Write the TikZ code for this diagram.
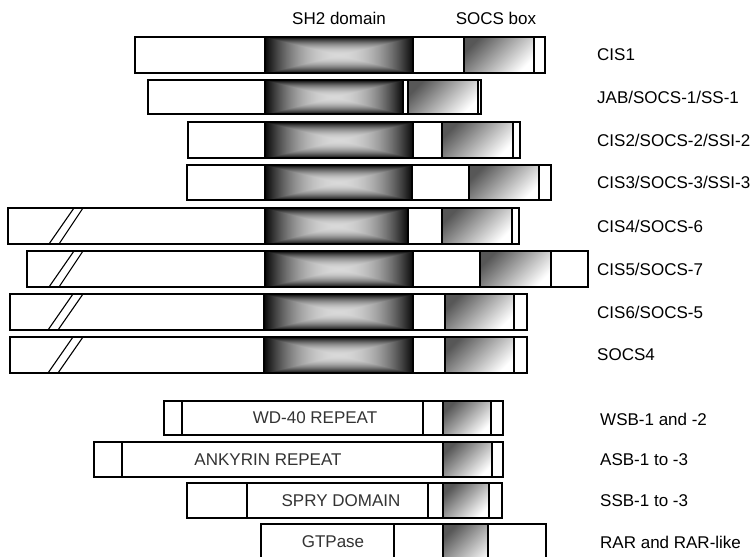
\documentclass[tikz,border=0pt]{standalone}
\usepackage{fontspec}
\setmainfont{Liberation Sans}
\usepackage{tikz}
\usetikzlibrary{shadings}

% pyramid shading for the SH2 domain: dark rim, light centre
\pgfdeclarefunctionalshading{sh2pyramid}{\pgfpoint{0bp}{0bp}}{\pgfpoint{100bp}{100bp}}{}{
  50 sub abs 25 div exch 50 sub abs 25 div
  2 copy gt {pop} {exch pop} ifelse
  dup 1 gt {pop 1} if
  dup mul 1 exch sub 0.82 mul 0.03 add
  dup dup
}

\begin{document}
\begin{tikzpicture}[
      x=1pt, y=-1pt,
      bar/.style={draw, fill=white, line width=1.2pt},
      sh2/.style={draw, line width=1.2pt, shading=sh2pyramid},
      socsbox/.style={draw, line width=1.2pt, shading=axis, top color=black!66, bottom color=white, shading angle=45},
      brk/.style={line width=1.1pt},
      every node/.style={font=\fontsize{17}{20}\selectfont, inner sep=0pt},
      protlabel/.style={anchor=west},
      inside/.style={text=black!80}
    ]
    \useasboundingbox (0,0) rectangle (756,557);
    \clip (0,0) rectangle (756,557);
    % column headings
    \node (hsh2) at (339,18) {SH2 domain};
    \node (hsocs) at (496,18) {SOCS box};
    % CIS1
    \draw[bar] (135,37) rectangle (545,73);
    \draw[sh2] (265,37) rectangle (413,73);
    \draw[socsbox] (464,37) rectangle (534,73);
    \node[protlabel] (cis1) at (597,55) {CIS1};
    % JAB/SOCS-1/SS-1
    \draw[bar] (148,80) rectangle (481,114);
    \draw[sh2] (265,80) rectangle (403,114);
    \draw[socsbox] (408,80) rectangle (478,114);
    \node[protlabel] (jab) at (597,97) {JAB/SOCS-1/SS-1};
    % CIS2/SOCS-2/SSI-2
    \draw[bar] (188,122) rectangle (520,158);
    \draw[sh2] (265,122) rectangle (413,158);
    \draw[socsbox] (442,122) rectangle (513,158);
    \node[protlabel] (cis2) at (597,140) {CIS2/SOCS-2/SSI-2};
    % CIS3/SOCS-3/SSI-3
    \draw[bar] (187,165) rectangle (551,200);
    \draw[sh2] (265,165) rectangle (412,200);
    \draw[socsbox] (469,165) rectangle (539,200);
    \node[protlabel] (cis3) at (597,182) {CIS3/SOCS-3/SSI-3};
    % CIS4/SOCS-6, long N-terminus
    \draw[bar] (8,208) rectangle (519,244);
    \draw[sh2] (265,208) rectangle (408,244);
    \draw[socsbox] (442,208) rectangle (512,244);
    \draw[brk] (49,244) -- (74,208) (59,244) -- (83,208);
    \node[protlabel] (cis4) at (597,226) {CIS4/SOCS-6};
    % CIS5/SOCS-7
    \draw[bar] (27,251) rectangle (588,287);
    \draw[sh2] (265,251) rectangle (413,287);
    \draw[socsbox] (480,251) rectangle (551,287);
    \draw[brk] (49,287) -- (74,251) (59,287) -- (83,251);
    \node[protlabel] (cis5) at (597,269) {CIS5/SOCS-7};
    % CIS6/SOCS-5
    \draw[bar] (10,294) rectangle (527,330);
    \draw[sh2] (264,294) rectangle (413,330);
    \draw[socsbox] (445,294) rectangle (514,330);
    \draw[brk] (48,330) -- (73,294) (58,330) -- (83,294);
    \node[protlabel] (cis6) at (597,312) {CIS6/SOCS-5};
    % SOCS4
    \draw[bar] (10,337) rectangle (527,373);
    \draw[sh2] (264,337) rectangle (413,373);
    \draw[socsbox] (445,337) rectangle (514,373);
    \draw[brk] (48,373) -- (73,337) (58,373) -- (83,337);
    \node[protlabel] (socs4) at (597,355) {SOCS4};
    % SOCS box proteins with other domains
    \draw[bar] (164,401) rectangle (503,435);
    \draw[bar] (182,401) rectangle (423,435);
    \draw[socsbox] (443,401) rectangle (491,435);
    \node[inside] (wd40) at (315,418) {WD-40 REPEAT};
    \node[protlabel] (wsb) at (600,419) {WSB-1 and -2};
    \draw[bar] (94,442) rectangle (503,477);
    \draw[line width=1.2pt] (122,442) -- (122,477);
    \draw[socsbox] (443,442) rectangle (492,477);
    \node[inside] (ank) at (268,460) {ANKYRIN REPEAT};
    \node[protlabel] (asb) at (600,460) {ASB-1 to -3};
    \draw[bar] (187,483) rectangle (502,518);
    \draw[bar] (247,483) rectangle (428,518);
    \draw[socsbox] (443,483) rectangle (489,518);
    \node[inside] (spry) at (341,501) {SPRY DOMAIN};
    \node[protlabel] (ssb) at (600,501) {SSB-1 to -3};
    \draw[bar] (261,524) rectangle (546,572);
    \draw[line width=1.2pt] (394,524) -- (394,572);
    \draw[socsbox] (443,524) rectangle (488,572);
    \node[inside] (gtp) at (333,542) {GTPase};
    \node[protlabel] (rar) at (600,542) {RAR and RAR-like};
  \end{tikzpicture}
\end{document}
